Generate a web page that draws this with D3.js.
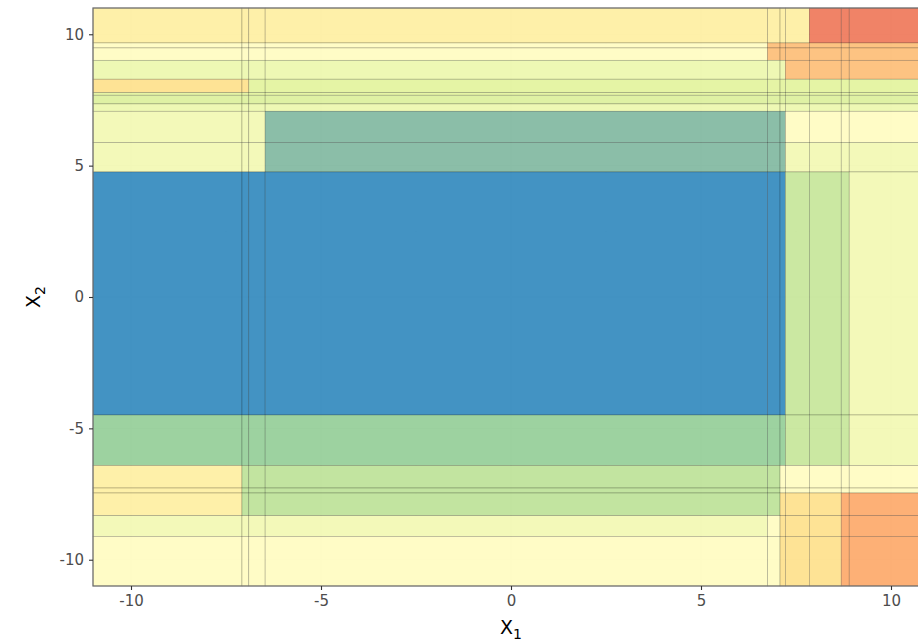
<!DOCTYPE html>
<html>
<head>
<meta charset="utf-8">
<script src="https://cdn.jsdelivr.net/npm/d3@7"></script>
<style>
body { margin: 0; background: #fff; overflow: hidden; }
text { font-family: "DejaVu Sans", sans-serif; }
</style>
</head>
<body>
<div id="chart"></div>
<script>
// split points of the partition, left to right and top to bottom
var xBreaks = [-11, -7.08, -6.90, -6.47, 6.75, 7.08, 7.22, 7.85, 8.69, 8.90, 11];
var yBreaks = [11, 9.67, 9.48, 9.01, 8.29, 7.78, 7.68, 7.35, 7.07, 5.88, 4.76, -4.49, -6.41, -7.27, -7.46, -8.32, -9.11, -11];

// fitted value of each cell (rows top to bottom, columns left to right)
var cellValues = [
	[5.5, 5.5, 5.5, 5.5, 5.5, 5.5, 5.5, 9, 9, 9],
	[5, 5, 5, 5, 7, 7, 7, 7, 7, 7],
	[5, 5, 5, 5, 7, 7, 7, 7, 7, 7],
	[4.2, 4.2, 4.2, 4.2, 4.2, 4.2, 7, 7, 7, 7],
	[6, 6, 4, 4, 4, 4, 4, 4, 4, 4],
	[4, 4, 4, 4, 4, 4, 4, 4, 4, 4],
	[3.8, 3.8, 3.8, 3.8, 3.8, 3.8, 3.8, 3.8, 3.8, 3.8],
	[4.2, 4.2, 4.2, 4.2, 4.2, 4.2, 4.2, 4.2, 4.2, 4.2],
	[4.5, 4.5, 4.5, 1.5, 1.5, 1.5, 5, 5, 5, 5],
	[4.5, 4.5, 4.5, 1.5, 1.5, 1.5, 4.5, 4.5, 4.5, 4.5],
	[0, 0, 0, 0, 0, 0, 3.2, 3.2, 3.2, 4.5],
	[2.2, 2.2, 2.2, 2.2, 2.2, 2.2, 3.2, 3.2, 3.2, 4.5],
	[5.5, 3, 3, 3, 3, 5, 5, 5, 5, 5],
	[5.5, 3, 3, 3, 3, 5, 5, 5, 5, 5],
	[5.5, 3, 3, 3, 3, 6, 6, 6, 7.5, 7.5],
	[4.5, 4.5, 4.5, 4.5, 5, 6, 6, 6, 7.5, 7.5],
	[5, 5, 5, 5, 5, 6, 6, 6, 7.5, 7.5]
];

var xTicks = [-10, -5, 0, 5, 10],
	yTicks = [-10, -5, 0, 5, 10],
	minorTicks = [-7.5, -2.5, 2.5, 7.5];

var width = 918,
	height = 642;

// panel runs past the right edge of the window, like the reference
var margin = {top: 8, left: 93},
	panelW = 836,
	panelH = 578;

var valueStops = [0, 1.5, 2.2, 3, 3.2, 4, 4.2, 4.5, 5, 5.5, 6, 7, 7.5, 9];
var palette = ["#2f87bc", "#7eb79f", "#92cd96", "#bbe196", "#c5e598", "#e2f39b", "#ecf7ac",
	"#f2f8b1", "#fffcc0", "#feeea0", "#fee08a", "#fdbd74", "#fda767", "#ee7557"];

var colour = d3.scaleLinear()
	.domain(valueStops)
	.range(palette)
	.interpolate(d3.interpolateRgb);

var x = d3.scaleLinear().domain([-11, 11]).range([0, panelW]);
var y = d3.scaleLinear().domain([-11, 11]).range([panelH, 0]);

var svg = d3.select("#chart").append("svg")
	.attr("width", width)
	.attr("height", height);

var g = svg.append("g")
	.attr("transform", "translate(" + margin.left + "," + margin.top + ")");

// grid (theme_bw style), sits under the see-through fills
g.append("g").selectAll("line.minx")
	.data(minorTicks).enter().append("line")
	.attr("x1", d => x(d)).attr("x2", d => x(d))
	.attr("y1", 0).attr("y2", panelH)
	.attr("stroke", "#f2f2f2").attr("stroke-width", 0.6);
g.append("g").selectAll("line.miny")
	.data(minorTicks).enter().append("line")
	.attr("y1", d => y(d)).attr("y2", d => y(d))
	.attr("x1", 0).attr("x2", panelW)
	.attr("stroke", "#f2f2f2").attr("stroke-width", 0.6);
g.append("g").selectAll("line.majx")
	.data(xTicks).enter().append("line")
	.attr("x1", d => x(d)).attr("x2", d => x(d))
	.attr("y1", 0).attr("y2", panelH)
	.attr("stroke", "#ebebeb").attr("stroke-width", 1.1);
g.append("g").selectAll("line.majy")
	.data(yTicks).enter().append("line")
	.attr("y1", d => y(d)).attr("y2", d => y(d))
	.attr("x1", 0).attr("x2", panelW)
	.attr("stroke", "#ebebeb").attr("stroke-width", 1.1);

// one record per cell
var cells = [];
cellValues.forEach(function(row, i){
	row.forEach(function(v, j){
		cells.push({x0: xBreaks[j], x1: xBreaks[j + 1], y0: yBreaks[i], y1: yBreaks[i + 1], value: v});
	});
});

g.append("g").attr("class", "cells")
	.selectAll("rect")
	.data(cells)
	.enter()
	.append("rect")
	.attr("x", d => x(d.x0))
	.attr("y", d => y(d.y0))
	.attr("width", d => x(d.x1) - x(d.x0))
	.attr("height", d => y(d.y1) - y(d.y0))
	.attr("fill", d => colour(d.value))
	.attr("fill-opacity", 0.9)
	.attr("stroke", "#000")
	.attr("stroke-opacity", 0.3)
	.attr("stroke-width", 0.6);

// panel border
g.append("rect")
	.attr("x", 0).attr("y", 0)
	.attr("width", panelW).attr("height", panelH)
	.attr("fill", "none")
	.attr("stroke", "#6e6e6e")
	.attr("stroke-width", 1.2);

// axes (plain hyphen for negatives, as in the reference)
var xAxis = g.append("g")
	.attr("transform", "translate(0," + panelH + ")")
	.call(d3.axisBottom(x).tickValues(xTicks).tickFormat(d => String(d)).tickSize(4).tickPadding(5));
var yAxis = g.append("g")
	.call(d3.axisLeft(y).tickValues(yTicks).tickFormat(d => String(d)).tickSize(4).tickPadding(5));

[xAxis, yAxis].forEach(function(a){
	a.select(".domain").remove();
	a.selectAll(".tick line").attr("stroke", "#333").attr("stroke-width", 1.1);
	a.selectAll(".tick text")
		.attr("fill", "#4d4d4d")
		.style("font-size", "15px")
		.style("font-family", "DejaVu Sans, sans-serif");
});

// axis titles with subscripts
var xTitle = svg.append("text")
	.attr("x", margin.left + x(0))
	.attr("y", 634)
	.attr("text-anchor", "middle")
	.attr("fill", "#000")
	.style("font-size", "19px");
xTitle.append("tspan").text("X");
xTitle.append("tspan").attr("dy", 5).style("font-size", "14px").text("1");

var yTitle = svg.append("text")
	.attr("transform", "translate(40," + (margin.top + y(0)) + ") rotate(-90)")
	.attr("text-anchor", "middle")
	.attr("fill", "#000")
	.style("font-size", "19px");
yTitle.append("tspan").text("X");
yTitle.append("tspan").attr("dy", 5).style("font-size", "14px").text("2");
</script>
</body>
</html>
